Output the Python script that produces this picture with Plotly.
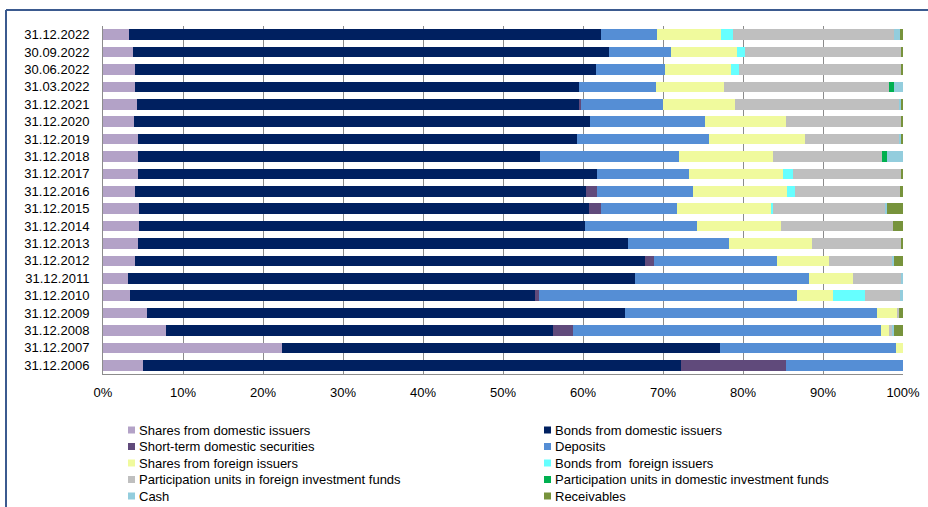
import plotly.graph_objects as go

# Reporting dates, top to bottom
dates = [
    "31.12.2022", "30.09.2022", "30.06.2022", "31.03.2022", "31.12.2021",
    "31.12.2020", "31.12.2019", "31.12.2018", "31.12.2017", "31.12.2016",
    "31.12.2015", "31.12.2014", "31.12.2013", "31.12.2012", "31.12.2011",
    "31.12.2010", "31.12.2009", "31.12.2008", "31.12.2007", "31.12.2006",
]

# Portfolio structure, % of total
shares_domestic = [3.2, 3.8, 4.0, 4.0, 4.25, 3.9, 4.35, 4.4, 4.35, 4.05,
                   4.5, 4.5, 4.4, 4.0, 3.1, 3.35, 5.55, 7.85, 22.4, 5.05]
bonds_domestic = [59.0, 59.4, 57.6, 55.5, 55.35, 57.0, 54.95, 50.2, 57.45, 56.35,
                  56.2, 55.7, 61.2, 63.8, 63.4, 50.65, 59.75, 48.45, 54.7, 67.25]
short_term = [0, 0, 0, 0, 0.1, 0, 0, 0, 0, 1.4,
              1.5, 0, 0, 1.1, 0, 0.5, 0, 2.4, 0, 13.1]
deposits = [7.05, 7.8, 8.7, 9.6, 10.3, 14.3, 16.4, 17.4, 11.45, 11.9,
            9.6, 14.05, 12.6, 15.35, 21.8, 32.2, 31.4, 38.55, 22.0, 14.6]
shares_foreign = [7.95, 8.2, 8.2, 8.5, 9.0, 10.2, 12.1, 11.8, 11.75, 11.8,
                  11.7, 10.45, 10.4, 6.45, 5.5, 4.6, 2.5, 1.05, 0.9, 0]
bonds_foreign = [1.5, 1.05, 1.0, 0, 0, 0, 0, 0, 1.25, 1.0,
                 0.3, 0, 0, 0, 0, 3.9, 0, 0, 0, 0]
units_foreign = [20.2, 19.5, 20.3, 20.65, 20.5, 14.3, 11.8, 13.6, 13.45, 13.1,
                 13.95, 14.1, 11.2, 8.0, 5.9, 4.4, 0.35, 0.3, 0, 0]
units_domestic = [0, 0, 0, 0.65, 0, 0, 0, 0.6, 0, 0,
                  0, 0, 0, 0, 0, 0, 0, 0, 0, 0]
cash = [0.7, 0, 0, 1.1, 0.2, 0, 0.1, 2.0, 0, 0,
        0.25, 0, 0, 0.2, 0.3, 0.4, 0, 0.3, 0, 0]
receivables = [0.4, 0.25, 0.2, 0, 0.3, 0.3, 0.3, 0, 0.3, 0.4,
               2.0, 1.2, 0.2, 1.1, 0, 0, 0.45, 1.1, 0, 0]

series = [
    ("Shares from domestic issuers", shares_domestic, "#B3A2C7"),
    ("Bonds from domestic issuers", bonds_domestic, "#002060"),
    ("Short-term domestic securities", short_term, "#604A7B"),
    ("Deposits", deposits, "#558ED5"),
    ("Shares from foreign issuers", shares_foreign, "#F0FA9D"),
    ("Bonds from\u00a0 foreign issuers", bonds_foreign, "#66FFFF"),
    ("Participation units in foreign investment funds", units_foreign, "#BFBFBF"),
    ("Participation units in domestic investment funds", units_domestic, "#00B050"),
    ("Cash", cash, "#93CDDD"),
    ("Receivables", receivables, "#77933C"),
]

FONT = "Liberation Sans, Arial, sans-serif"
W, H = 928, 507
ML, MR, MT, MB = 103, 25, 26, 133
PW, PH = W - ML - MR, H - MT - MB


def px(xp):
    return (xp - ML) / PW


def py(yp):
    return (H - MB - yp) / PH


fig = go.Figure()
for name, vals, color in series:
    fig.add_trace(go.Bar(
        y=dates, x=vals, name=name, orientation="h",
        marker=dict(color=color, line=dict(width=0)),
        showlegend=False,
    ))

# Two-column legend, row-major order
shapes = []
annotations = []
row_y = [430, 446.5, 463, 479.5, 496]
col_x = [128, 544]
for i, (name, vals, color) in enumerate(series):
    col = i % 2
    row = i // 2
    x0 = col_x[col]
    yc = row_y[row]
    shapes.append(dict(
        type="rect", xref="paper", yref="paper",
        x0=px(x0), x1=px(x0 + 7), y0=py(yc + 3.5), y1=py(yc - 3.5),
        fillcolor=color, line=dict(width=0),
    ))
    annotations.append(dict(
        xref="paper", yref="paper", x=px(x0 + 9), y=py(yc),
        xanchor="left", yanchor="middle", showarrow=False,
        text=name, font=dict(family=FONT, size=13, color="#000000"),
    ))

# Frame around the chart block
frame_color = "#3B5A8F"
shapes.append(dict(type="line", xref="paper", yref="paper",
                   x0=px(6), x1=px(W + 5), y0=py(10), y1=py(10),
                   line=dict(color=frame_color, width=2)))
shapes.append(dict(type="line", xref="paper", yref="paper",
                   x0=px(6), x1=px(6), y0=py(10), y1=py(H + 5),
                   line=dict(color=frame_color, width=2)))

fig.update_layout(
    width=W, height=H, autosize=False,
    margin=dict(l=ML, r=MR, t=MT, b=MB, pad=0),
    barmode="stack", barnorm="percent", bargap=0.4,
    paper_bgcolor="white", plot_bgcolor="white",
    font=dict(family=FONT, size=13, color="#000000"),
    shapes=shapes, annotations=annotations,
    xaxis=dict(
        range=[0, 100], dtick=10, ticksuffix="%", automargin=False,
        showgrid=True, gridcolor="#8C8C8C", gridwidth=1,
        showline=True, linecolor="#8C8C8C", linewidth=1,
        zeroline=False, ticks="", ticklabelstandoff=6,
        tickfont=dict(family=FONT, size=13, color="#000000"),
        fixedrange=True,
    ),
    yaxis=dict(
        autorange="reversed", type="category", automargin=False,
        showgrid=False, showline=True, linecolor="#8C8C8C", linewidth=1,
        ticks="", ticklabelstandoff=10,
        tickfont=dict(family=FONT, size=13, color="#000000"),
        fixedrange=True,
    ),
)

fig.write_html("out.html")
